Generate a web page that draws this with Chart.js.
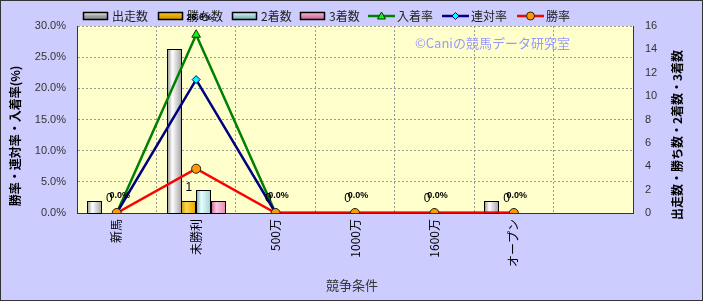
<!DOCTYPE html>
<html><head><meta charset="utf-8">
<script src="https://cdn.jsdelivr.net/npm/chart.js@4"></script>
<style>html,body{margin:0;padding:0;background:#CCCCFF;}canvas{display:block;}</style>
</head><body>
<canvas id="c" width="703" height="301"></canvas>
<script>
// ---- data ----
const categories = ['新馬','未勝利','500万','1000万','1600万','オープン',''];
const runners    = [1, 14, 0, 0, 0, 1, null];
const wins       = [0, 1, 0, 0, 0, 0, null];
const seconds    = [0, 2, 0, 0, 0, 0, null];
const thirds     = [0, 1, 0, 0, 0, 0, null];
const placeRate  = [0, 28.6, 0, 0, 0, 0, null];
const rentaiRate = [0, 21.4, 0, 0, 0, 0, null];
const winRate    = [0, 7.1, 0, 0, 0, 0, null];
const leftAxis  = {min: 0, max: 30, step: 5};
const rightAxis = {min: 0, max: 16, step: 2};
const seriesNames = ['出走数','勝ち数','2着数','3着数','入着率','連対率','勝率'];
const titles = {left: '勝率・連対率・入着率(%)', right: '出走数・勝ち数・2着数・3着数', x: '競争条件', mark: '©Caniの競馬データ研究室'};

const FONT = "'Liberation Sans','Noto Sans CJK JP',sans-serif";
const JFONT = "'Noto Sans CJK JP','Liberation Sans',sans-serif";
Chart.defaults.font.family = FONT;

function barDs(label, data, grad, swatch) {
  return {type: 'bar', label, data, yAxisID: 'y2', order: 10,
    backgroundColor: swatch, borderColor: '#000', borderWidth: 1,
    categoryPercentage: 0.74, barPercentage: 1.0, grad};
}
function lineDs(label, data, color, style, fill, radius, order) {
  return {type: 'line', label, data, yAxisID: 'y', order,
    borderColor: color, borderWidth: 2.5, backgroundColor: fill,
    pointStyle: style, pointRadius: radius, pointBackgroundColor: fill,
    pointBorderColor: '#222', pointBorderWidth: 1, tension: 0, spanGaps: false};
}

const datasets = [
  barDs(seriesNames[0], runners, [[0,'#8c8c8c'],[0.35,'#ffffff'],[1,'#a0a0a0']], '#e0e0e0'),
  barDs(seriesNames[1], wins,    [[0,'#c89400'],[0.35,'#ffd84a'],[1,'#e0a800']], '#ffc000'),
  barDs(seriesNames[2], seconds, [[0,'#6fa8a8'],[0.35,'#e8ffff'],[1,'#a0d0d0']], '#ccffff'),
  barDs(seriesNames[3], thirds,  [[0,'#c06090'],[0.35,'#ffc8e0'],[1,'#e088b0']], '#ff99cc'),
  lineDs(seriesNames[4], placeRate,  '#008000', 'triangle', '#00ff00', 5, 3),
  lineDs(seriesNames[5], rentaiRate, '#000080', 'rectRot', '#00ffff', 4, 2),
  lineDs(seriesNames[6], winRate,    '#ff0000', 'circle', '#ff9900', 4.5, 1),
];
datasets[5].pointBorderColor = '#000080';

const chromePlugin = {
  id: 'chrome',
  beforeDraw(chart) {
    const {ctx, chartArea: a} = chart;
    ctx.save();
    ctx.fillStyle = '#CCCCFF';
    ctx.fillRect(0, 0, chart.width, chart.height);
    ctx.fillStyle = '#FFFFCC';
    ctx.fillRect(a.left, a.top, a.right - a.left, a.bottom - a.top);
    ctx.restore();
  },
  beforeDatasetsDraw(chart) {
    const {ctx, chartArea: a} = chart;
    ctx.save();
    ctx.font = '13px ' + JFONT;
    ctx.fillStyle = '#9999ff';
    ctx.textBaseline = 'middle';
    ctx.textAlign = 'left';
    ctx.fillText(titles.mark, a.left + 338, a.top + 17);
    ctx.restore();
  },
  beforeDatasetDraw(chart, args) {
    const meta = args.meta;
    if (meta.type !== 'bar') return;
    const ds = chart.data.datasets[args.index];
    const ctx = chart.ctx;
    ctx.save();
    meta.data.forEach((el, i) => {
      const v = ds.data[i];
      if (v == null || v === 0) return;
      const l = Math.round(el.x - el.width / 2), w = Math.round(el.width);
      const t = Math.round(el.y), b = Math.round(el.base);
      const g = ctx.createLinearGradient(l, 0, l + w, 0);
      ds.grad.forEach(([o, c]) => g.addColorStop(o, c));
      ctx.fillStyle = g;
      ctx.fillRect(l, t, w, b - t);
      ctx.strokeStyle = '#000';
      ctx.lineWidth = 1;
      ctx.strokeRect(l + 0.5, t + 0.5, w - 1, b - t);
    });
    ctx.restore();
    return false;
  },
  afterDraw(chart) {
    const {ctx, chartArea: a} = chart;
    ctx.save();
    // outer frame
    ctx.strokeStyle = '#333';
    ctx.lineWidth = 1;
    ctx.strokeRect(0.5, 0.5, chart.width - 1, chart.height - 1);

    // axis titles
    ctx.fillStyle = '#000';
    ctx.font = 'bold 12px ' + JFONT;
    ctx.textAlign = 'center';
    ctx.textBaseline = 'middle';
    ctx.save(); ctx.translate(15, 136); ctx.rotate(-Math.PI / 2); ctx.fillText(titles.left, 0, 0); ctx.restore();
    ctx.save(); ctx.translate(677, 135); ctx.rotate(-Math.PI / 2); ctx.fillText(titles.right, 0, 0); ctx.restore();
    ctx.font = '13px ' + JFONT;
    ctx.fillStyle = '#333';
    ctx.fillText(titles.x, (a.left + a.right) / 2 - 3, 285);

    // legend
    const legendX = [83, 158, 232, 300, 368, 442, 517];
    const ly = 16;
    chart.data.datasets.forEach((ds, i) => {
      const x = legendX[i];
      if (ds.type === 'bar') {
        const g = ctx.createLinearGradient(0, ly - 4, 0, ly + 4);
        g.addColorStop(0, ds.grad[1][1]);
        g.addColorStop(0.5, ds.grad[2][1]);
        g.addColorStop(1, ds.grad[0][1]);
        ctx.fillStyle = g;
        ctx.fillRect(x, ly - 4, 25, 8);
        ctx.strokeStyle = '#000'; ctx.lineWidth = 1.5;
        ctx.strokeRect(x + 0.5, ly - 3.5, 24, 7);
      } else {
        ctx.strokeStyle = ds.borderColor; ctx.lineWidth = 2.5;
        ctx.beginPath(); ctx.moveTo(x, ly); ctx.lineTo(x + 27, ly); ctx.stroke();
        const cx = x + 13.5;
        ctx.fillStyle = ds.pointBackgroundColor;
        ctx.strokeStyle = ds.pointBorderColor; ctx.lineWidth = 1;
        ctx.beginPath();
        if (ds.pointStyle === 'triangle') {
          ctx.moveTo(cx, ly - 4); ctx.lineTo(cx + 4, ly + 3); ctx.lineTo(cx - 4, ly + 3); ctx.closePath();
        } else if (ds.pointStyle === 'rectRot') {
          ctx.moveTo(cx, ly - 3.5); ctx.lineTo(cx + 3.5, ly); ctx.lineTo(cx, ly + 3.5); ctx.lineTo(cx - 3.5, ly); ctx.closePath();
        } else {
          ctx.arc(cx, ly, 4, 0, Math.PI * 2);
        }
        ctx.fill(); ctx.stroke();
      }
      ctx.fillStyle = '#222';
      ctx.font = '12px ' + JFONT;
      ctx.textAlign = 'left';
      ctx.textBaseline = 'middle';
      ctx.fillText(ds.label, x + (ds.type === 'bar' ? 29 : 29), ly);
    });

    // data labels: wins counts and place rate
    const winsMeta = chart.getDatasetMeta(1);
    ctx.fillStyle = '#000';
    ctx.textAlign = 'center';
    ctx.textBaseline = 'middle';
    ctx.font = '12px ' + FONT;
    winsMeta.data.forEach((el, i) => {
      const v = wins[i];
      if (v == null) return;
      ctx.fillText(String(v), el.x, el.y - 14);
    });
    const placeMeta = chart.getDatasetMeta(4);
    ctx.font = 'bold 9px ' + FONT;
    placeMeta.data.forEach((el, i) => {
      const v = placeRate[i];
      if (v == null) return;
      ctx.fillText(v.toFixed(1) + '%', el.x + 3, el.y - 17);
    });
    ctx.restore();
  }
};

new Chart(document.getElementById('c'), {
  data: {labels: categories, datasets},
  options: {
    responsive: false,
    animation: false,
    events: [],
    layout: {padding: {left: 28, right: 40, top: 26, bottom: 0}},
    plugins: {legend: {display: false}, tooltip: {enabled: false}},
    scales: {
      x: {
        type: 'category', offset: true,
        grid: {offset: true, color: '#9a9a9a', drawTicks: false},
        border: {display: true, color: '#333', width: 1, dash: [2, 2]},
        ticks: {minRotation: 90, maxRotation: 90, autoSkip: false, padding: 6,
          color: '#000', font: {size: 12, family: JFONT}},
        afterFit(s) { s.height = 88; }
      },
      y: {
        position: 'left', min: leftAxis.min, max: leftAxis.max,
        grid: {color: '#9a9a9a', drawTicks: false},
        border: {display: true, color: '#333', width: 1, dash: [2, 2]},
        ticks: {stepSize: leftAxis.step, padding: 11, color: '#333', font: {size: 11},
          callback: v => v.toFixed(1) + '%'},
        afterFit(s) { s.width = 49; }
      },
      y2: {
        position: 'right', min: rightAxis.min, max: rightAxis.max,
        grid: {display: true, drawOnChartArea: false, drawTicks: false},
        border: {display: true, color: '#333', width: 1},
        ticks: {stepSize: rightAxis.step, padding: 12, color: '#333', font: {size: 11}},
        afterFit(s) { s.width = 30; }
      }
    }
  },
  plugins: [chromePlugin]
});
</script>
</body></html>
